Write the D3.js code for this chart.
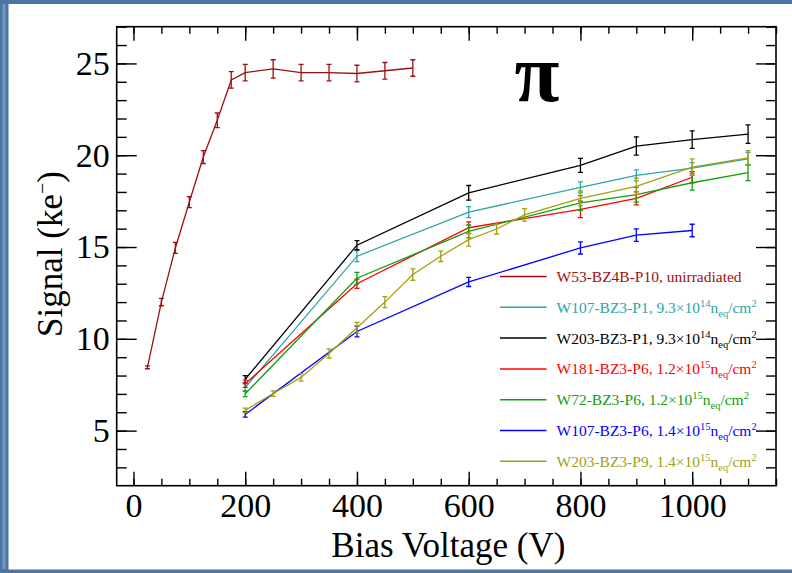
<!DOCTYPE html>
<html><head><meta charset="utf-8">
<script src="https://cdn.jsdelivr.net/npm/d3@7"></script>
<style>html,body{margin:0;padding:0;background:#fff;}svg{display:block;}</style>
</head><body><svg id="c" width="792" height="573"></svg>
<script>
// ---------------- data ----------------
const xTickValues = [0, 200, 400, 600, 800, 1000];
const yTickValues = [5, 10, 15, 20, 25];

const names = [
  "W53-BZ4B-P10, unirradiated",
  "W107-BZ3-P1",
  "W203-BZ3-P1",
  "W181-BZ3-P6",
  "W72-BZ3-P6",
  "W107-BZ3-P6",
  "W203-BZ3-P9"
];
const fluenceMant = [null, "9.3", "9.3", "1.2", "1.2", "1.4", "1.4"];
const fluenceExp  = [null, "14", "14", "15", "15", "15", "15"];
const colors = ["#9e0f0f", "#2ba6a6", "#000000", "#ff0000", "#0fa00f", "#0000ff", "#a39f12"];

const w53V   = [25, 50, 75, 100, 125, 150, 175, 200, 250, 300, 350, 400, 450, 500];
const w53S   = [8.45, 12.0, 14.95, 17.45, 19.9, 21.9, 24.1, 24.5, 24.7, 24.5, 24.5, 24.45, 24.6, 24.75];
const w53E   = [0.08, 0.2, 0.3, 0.3, 0.35, 0.4, 0.45, 0.45, 0.5, 0.45, 0.45, 0.45, 0.45, 0.45];

const w107p1V = [200, 400, 600, 800, 900, 1000, 1100];
const w107p1S = [7.35, 14.5, 16.9, 18.25, 18.9, 19.3, 19.8];
const w107p1E = [0.2, 0.3, 0.3, 0.3, 0.3, 0.3, 0.35];

const w203p1V = [200, 400, 600, 800, 900, 1000, 1100];
const w203p1S = [7.8, 15.1, 17.95, 19.45, 20.5, 20.85, 21.15];
const w203p1E = [0.2, 0.25, 0.4, 0.38, 0.5, 0.48, 0.5];

const w181p6V = [200, 400, 600, 800, 900, 1000];
const w181p6S = [7.55, 13.0, 16.05, 17.05, 17.65, 18.8];
const w181p6E = [0.2, 0.25, 0.32, 0.45, 0.35, 0.3];

const w72p6V = [200, 400, 600, 800, 900, 1000, 1100];
const w72p6S = [7.0, 13.3, 15.85, 17.4, 17.85, 18.5, 19.05];
const w72p6E = [0.15, 0.32, 0.35, 0.4, 0.4, 0.4, 0.43];

const w107p6V = [200, 400, 600, 800, 900, 1000];
const w107p6S = [5.88, 10.4, 13.1, 14.95, 15.65, 15.9];
const w107p6E = [0.15, 0.29, 0.25, 0.33, 0.34, 0.34];

const w203p9V = [200, 250, 300, 350, 400, 450, 500, 550, 600, 650, 700, 800, 900, 1000, 1100];
const w203p9S = [6.1, 7.02, 7.9, 9.2, 10.6, 12.0, 13.5, 14.5, 15.4, 15.98, 16.75, 17.65, 18.3, 19.35, 19.85];
const w203p9E = [0.12, 0.15, 0.2, 0.25, 0.3, 0.3, 0.31, 0.29, 0.35, 0.27, 0.34, 0.4, 0.45, 0.45, 0.4];

const seriesV = [w53V, w107p1V, w203p1V, w181p6V, w72p6V, w107p6V, w203p9V];
const seriesS = [w53S, w107p1S, w203p1S, w181p6S, w72p6S, w107p6S, w203p9S];
const seriesE = [w53E, w107p1E, w203p1E, w181p6E, w72p6E, w107p6E, w203p9E];

// ---------------- layout ----------------
const svg = d3.select("#c");
const L = 116.7, R = 776, T = 26.7, B = 485.7;
const x = d3.scaleLinear().domain([-30, 1150]).range([L, R]);
const y = d3.scaleLinear().domain([2, 27]).range([B, T]);
const serif = "'Liberation Serif','Times New Roman',serif";

// window border
svg.append("rect").attr("x",0).attr("y",0).attr("width",792).attr("height",573).attr("fill","#fff");
svg.append("rect").attr("x",0).attr("y",0).attr("width",792).attr("height",4).attr("fill","#4a76a1");
svg.append("rect").attr("x",0).attr("y",0).attr("width",8.5).attr("height",573).attr("fill","#4a76a1");
svg.append("rect").attr("x",2.5).attr("y",4).attr("width",3).attr("height",565).attr("fill","#7396bd");
svg.append("rect").attr("x",0).attr("y",569.5).attr("width",792).attr("height",4).attr("fill","#4a76a1");

// data group (clipped)
svg.append("clipPath").attr("id","clip").append("rect").attr("x",L).attr("y",T).attr("width",R-L).attr("height",B-T);
const g = svg.append("g").attr("clip-path","url(#clip)");

const line = d3.line().x(d => x(d[0])).y(d => y(d[1]));
seriesV.forEach((vs, i) => {
  const pts = vs.map((v, j) => [v, seriesS[i][j], seriesE[i][j]]);
  g.append("path").datum(pts).attr("d", line).attr("fill","none")
    .attr("stroke", colors[i]).attr("stroke-width", 1.3);
  const eb = g.append("g").attr("stroke", colors[i]).attr("stroke-width", 1.3);
  pts.forEach(p => {
    const y1 = y(p[1] + p[2]), y0 = y(p[1] - p[2]), xx = x(p[0]);
    eb.append("line").attr("x1",xx).attr("x2",xx).attr("y1",y1).attr("y2",y0);
    eb.append("line").attr("x1",xx-2.5).attr("x2",xx+2.5).attr("y1",y1).attr("y2",y1);
    eb.append("line").attr("x1",xx-2.5).attr("x2",xx+2.5).attr("y1",y0).attr("y2",y0);
  });
});

// axes
function styleAxis(sel) {
  sel.select(".domain").remove();
  sel.selectAll("line").attr("stroke","#000").attr("stroke-width",1.4);
  sel.attr("font-family", serif).attr("font-size", 34);
  sel.selectAll("text").attr("fill","#000");
}
const xMinor = d3.range(0, 1151, 50);
const yMinor = d3.range(3, 27.01, 1);

svg.append("g").attr("transform",`translate(0,${B})`)
  .call(d3.axisBottom(x).tickValues(xMinor).tickSizeInner(-7).tickSizeOuter(0).tickFormat("")).call(styleAxis);
svg.append("g").attr("transform",`translate(0,${B})`)
  .call(d3.axisBottom(x).tickValues(xTickValues).tickSizeInner(-14).tickSizeOuter(0).tickPadding(7).tickFormat(d3.format("d"))).call(styleAxis);
svg.append("g").attr("transform",`translate(0,${T})`)
  .call(d3.axisTop(x).tickValues(xMinor).tickSizeInner(-7).tickSizeOuter(0).tickFormat("")).call(styleAxis);
svg.append("g").attr("transform",`translate(0,${T})`)
  .call(d3.axisTop(x).tickValues(xTickValues).tickSizeInner(-14).tickSizeOuter(0).tickFormat("")).call(styleAxis);

svg.append("g").attr("transform",`translate(${L},0)`)
  .call(d3.axisLeft(y).tickValues(yMinor).tickSizeInner(-10).tickSizeOuter(0).tickFormat("")).call(styleAxis);
svg.append("g").attr("transform",`translate(${L},0)`)
  .call(d3.axisLeft(y).tickValues(yTickValues).tickSizeInner(-20).tickSizeOuter(0).tickPadding(7).tickFormat(d3.format("d"))).call(styleAxis);
svg.append("g").attr("transform",`translate(${R},0)`)
  .call(d3.axisRight(y).tickValues(yMinor).tickSizeInner(-10).tickSizeOuter(0).tickFormat("")).call(styleAxis);
svg.append("g").attr("transform",`translate(${R},0)`)
  .call(d3.axisRight(y).tickValues(yTickValues).tickSizeInner(-20).tickSizeOuter(0).tickFormat("")).call(styleAxis);

// frame
svg.append("rect").attr("x",L).attr("y",T).attr("width",R-L).attr("height",B-T)
  .attr("fill","none").attr("stroke","#000").attr("stroke-width",1.6);

// axis titles
svg.append("text").attr("x",(L+R)/2+2).attr("y",556.5).attr("text-anchor","middle")
  .attr("font-family",serif).attr("font-size",35).text("Bias Voltage (V)");
const yt = svg.append("text").attr("transform","translate(61.5,254) rotate(-90)").attr("text-anchor","middle")
  .attr("font-family",serif).attr("font-size",35);
yt.append("tspan").text("Signal (ke");
yt.append("tspan").attr("font-size",20).attr("dy",-13).text("\u2212");
yt.append("tspan").attr("dy",13).text(")");

// pi label
svg.append("text").attr("x",537).attr("y",101).attr("text-anchor","middle")
  .attr("font-family",serif).attr("font-weight","bold").attr("font-size",82).text("\u03C0");

// legend
const legY0 = 276.5, legDy = 30.8;
names.forEach((nm, i) => {
  const yy = legY0 + i * legDy;
  svg.append("line").attr("x1",500).attr("x2",546.5).attr("y1",yy).attr("y2",yy)
    .attr("stroke",colors[i]).attr("stroke-width",1.5);
  const t = svg.append("text").attr("x",556.5).attr("y",yy+5.5)
    .attr("font-family",serif).attr("font-size",15.5).attr("fill",colors[i]);
  if (fluenceMant[i] === null) {
    t.text(nm);
  } else {
    t.append("tspan").text(nm + ", " + fluenceMant[i] + "\u00D710");
    t.append("tspan").attr("font-size",10.5).attr("dy",-6).text(fluenceExp[i]);
    t.append("tspan").attr("dy",6).text("n");
    t.append("tspan").attr("font-size",10.5).attr("dy",4).text("eq");
    t.append("tspan").attr("dy",-4).text("/cm");
    t.append("tspan").attr("font-size",10.5).attr("dy",-6).text("2");
  }
});
</script></body></html>
